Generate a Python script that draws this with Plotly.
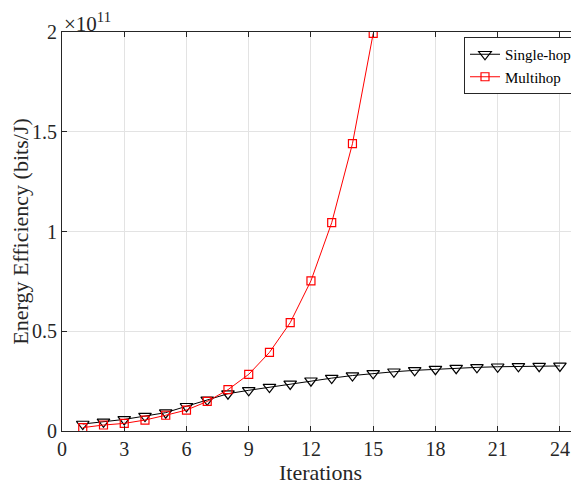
import plotly.graph_objects as go

iterations_single = list(range(1, 25))
single_hop = [0.035, 0.046, 0.058, 0.075, 0.092, 0.124, 0.156, 0.187, 0.204, 0.220,
              0.236, 0.252, 0.265, 0.278, 0.289, 0.297, 0.304, 0.310, 0.315, 0.319,
              0.322, 0.324, 0.325, 0.326]
iterations_multi = list(range(1, 16))
multihop = [0.017, 0.030, 0.038, 0.055, 0.079, 0.105, 0.148, 0.207, 0.284, 0.394,
            0.543, 0.753, 1.044, 1.440, 1.993]
x_ticks = [0, 3, 6, 9, 12, 15, 18, 21, 24]
y_ticks = [0, 0.5, 1, 1.5, 2]
y_tick_labels = ["0", "0.5", "1", "1.5", "2"]

FONT = "Liberation Serif, Times New Roman, serif"
AX = "#262626"
GRID = "#e3e3e3"

fig = go.Figure()
fig.add_trace(go.Scatter(
    x=iterations_single, y=single_hop, name="Single-hop", mode="lines+markers",
    line=dict(color="black", width=1),
    marker=dict(symbol="triangle-down-open", size=11, color="black", line=dict(width=1.2)),
))
fig.add_trace(go.Scatter(
    x=iterations_multi, y=multihop, name="Multihop", mode="lines+markers",
    line=dict(color="#ff0000", width=1),
    marker=dict(symbol="square-open", size=8, color="#ff0000", line=dict(width=1.2)),
))

# The page body adds an 8px margin, so the figure is 8px smaller and margins shifted.
fig.update_layout(
    width=571, height=481,
    margin=dict(l=54, r=0, t=24, b=58, autoexpand=False),
    paper_bgcolor="white", plot_bgcolor="white",
    font=dict(family=FONT, size=20, color=AX),
    showlegend=True,
    legend=dict(
        x=1 - 2 / 517, xanchor="right", y=1 - 5 / 399, yanchor="top",
        bgcolor="white", bordercolor=AX, borderwidth=1,
        font=dict(family=FONT, size=15, color="black"),
        itemwidth=30, tracegroupgap=0,
    ),
    xaxis=dict(
        range=[0, 24.92], tickvals=x_ticks, showgrid=True, gridcolor=GRID, gridwidth=1,
        showline=True, linecolor=AX, linewidth=1, mirror="ticks",
        ticks="inside", ticklen=5, tickcolor=AX, zeroline=False,
        title=dict(text="Iterations", font=dict(family=FONT, size=22, color=AX), standoff=1),
        tickfont=dict(family=FONT, size=20, color=AX),
    ),
    yaxis=dict(
        range=[0, 2], tickvals=y_ticks, ticktext=y_tick_labels,
        showgrid=True, gridcolor=GRID, gridwidth=1,
        showline=True, linecolor=AX, linewidth=1, mirror=False,
        ticks="inside", ticklen=5, tickcolor=AX, zeroline=False,
        title=dict(text="Energy Efficiency (bits/J)", font=dict(family=FONT, size=22, color=AX), standoff=9),
        tickfont=dict(family=FONT, size=20, color=AX),
    ),
)

fig.add_annotation(
    text="×10<sup>11</sup>", xref="paper", yref="paper", x=0, y=1, xanchor="left", yanchor="bottom",
    showarrow=False, font=dict(family=FONT, size=21, color=AX), xshift=0, yshift=-6,
)

fig.write_html("out.html")
